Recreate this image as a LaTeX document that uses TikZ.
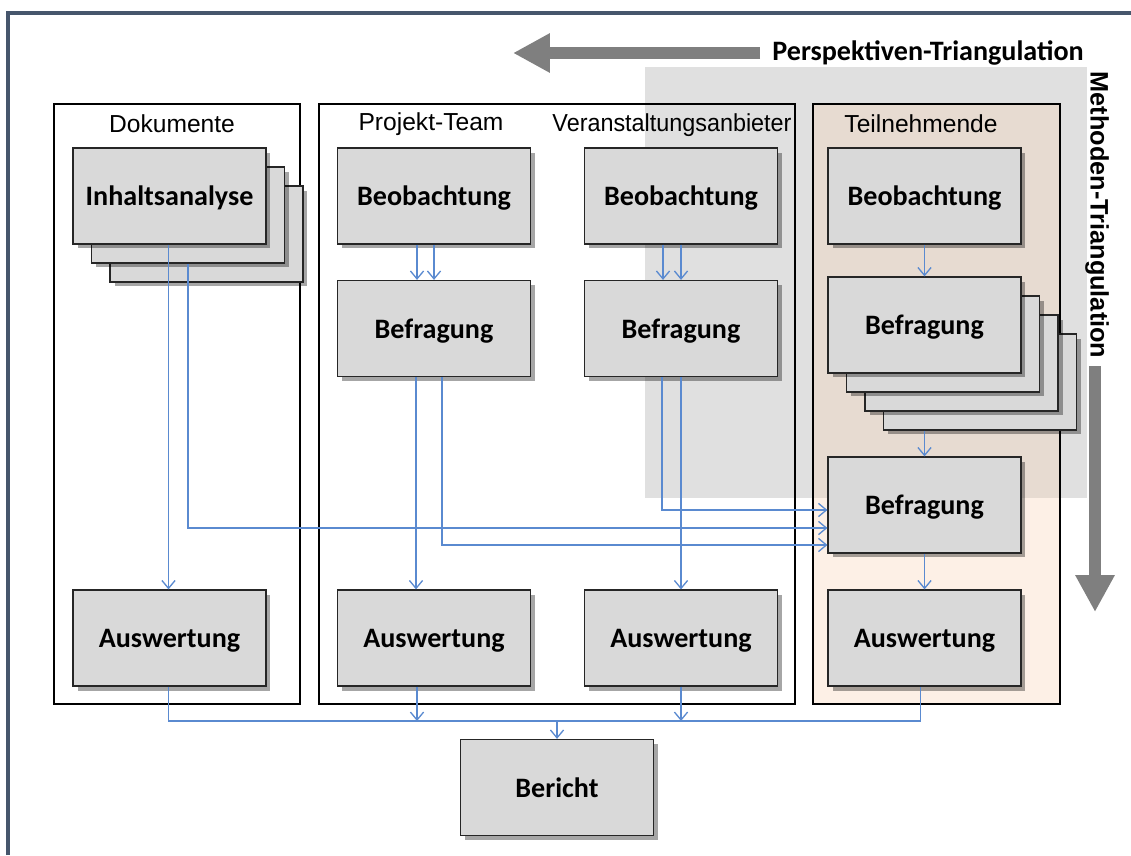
\documentclass[tikz,border=0pt]{standalone}
\usepackage{fontspec}
\usepackage{graphicx}
\setmainfont{Carlito}
\newfontfamily\arialfont{Liberation Sans}
\usetikzlibrary{positioning, arrows.meta, shadows}
\definecolor{boxgray}{HTML}{D9D9D9}
\definecolor{regiongray}{HTML}{E0E0E0}
\definecolor{peachlight}{HTML}{FDF0E6}
\definecolor{peachdark}{HTML}{E7DBD1}
\definecolor{flowblue}{HTML}{5A8AD0}
\definecolor{arrowgray}{HTML}{7F7F7F}
\definecolor{framecol}{HTML}{46566C}
\tikzset{
  proc/.style={draw=black!85, line width=0.7pt, fill=boxgray, minimum width=3.86cm, minimum height=1.92cm,
    font=\bfseries\fontsize{16}{19}\selectfont, text depth=0pt,
    drop shadow={shadow xshift=0.09cm, shadow yshift=-0.09cm, fill=black, opacity=0.35}},
  group/.style={draw=black, line width=0.6pt},
  grouplabel/.style={font=\arialfont\fontsize{14}{16}\selectfont},
  flow/.style={flowblue, line width=0.75pt, -{Straight Barb[length=4.5pt,width=7.5pt]}},
  busline/.style={flowblue, line width=0.75pt},
  bigarrow/.style={arrowgray, line width=6.8pt, -{Triangle[length=21pt,width=21pt]}},
}
\begin{document}
\begin{tikzpicture}[x=0.02cm, y=-0.02cm]
\useasboundingbox (0,0) rectangle (1131,855);
% Rahmen und Hintergrund
\draw[framecol, line width=1.8pt] (8,855) -- (8,13) -- (1131,13);
\fill[regiongray] (645,67) rectangle (1087,498);
\fill[peachlight] (813,498) rectangle (1060,704);
\fill[peachdark] (813,104) rectangle (1060,498);
\draw[group] (54,104) rectangle (300,704);
\draw[group] (319,104) rectangle (795,704);
\draw[group] (813,104) rectangle (1060,704);
\node[grouplabel] (lb_dok) at (172,124) {Dokumente};
\node[grouplabel] (lb_pt) at (431,124) {Projekt-Team};
\node[grouplabel] (lb_va) at (672,125) {\scalebox{0.95}[1]{Veranstaltungsanbieter}};
\node[grouplabel] (lb_tn) at (921,124) {Teilnehmende};

% Triangulation
\draw[bigarrow] (760,53) -- (513,53);
\node[anchor=west, inner sep=0, font=\bfseries\fontsize{16}{19}\selectfont] (pt_txt) at (772,53) {Perspektiven-Triangulation};
\node[rotate=-90, inner sep=0, font=\arialfont\bfseries\fontsize{14.4}{17}\selectfont] (mt_txt) at (1097,215) {Methoden-Triangulation};
\draw[bigarrow] (1095,366) -- (1095,612);

% Dokumente
\node[proc] (ia_3) at (206.5,234) {};
\node[proc] (ia_2) at (188,215) {};
\node[proc] (ia_1) at (169.5,196) {Inhaltsanalyse};
\node[proc] (au_1) at (169.5,638) {Auswertung};
% Projekt-Team
\node[proc] (beo_2) at (434,196) {Beobachtung};
\node[proc] (bf_2) at (434,328.5) {Befragung};
\node[proc] (au_2) at (434,638) {Auswertung};
% Veranstaltungsanbieter
\node[proc] (beo_3) at (681,196) {Beobachtung};
\node[proc] (bf_3) at (681,328.5) {Befragung};
\node[proc] (au_3) at (681,638) {Auswertung};
% Teilnehmende
\node[proc] (beo_4) at (924.5,196) {Beobachtung};
\foreach \k in {3,2,1}
  \node[proc] (bs_\k) at ({924.5+18.5*\k},{325+19*\k}) {};
\node[proc] (bs_0) at (924.5,325) {Befragung};
\node[proc] (bf_4) at (924.5,505) {Befragung};
\node[proc] (au_4) at (924.5,638) {Auswertung};
\node[proc] (be_0) at (557,787.5) {Bericht};

\path[flow]
  ([xshift=-0.34cm]beo_2.south) edge ([xshift=-0.34cm]bf_2.north)
  (beo_2.south) edge (bf_2.north)
  ([xshift=-0.36cm]beo_3.south) edge ([xshift=-0.36cm]bf_3.north)
  (beo_3.south) edge (bf_3.north)
  (beo_4.south) edge (bs_0.north)
  (bf_4.north |- bs_3.south) edge (bf_4.north)
  (bf_4.south) edge (au_4.north)
  ([xshift=-0.02cm]ia_1.south) edge ([xshift=-0.02cm]au_1.north)
  ([xshift=-0.36cm]bf_2.south) edge ([xshift=-0.36cm]au_2.north)
  (bf_3.south) edge (au_3.north);
\draw[flow] (ia_2.south) |- ([yshift=-0.46cm]bf_4.west);
\draw[flow] ([xshift=0.16cm]bf_2.south) |- ([yshift=-0.8cm]bf_4.west);
\draw[flow] ([xshift=-0.38cm]bf_3.south) |- ([yshift=-0.1cm]bf_4.west);

% Bericht
\coordinate (bus_0) at (557,721);
\coordinate (bus_2) at (417,721);
\coordinate (bus_3) at (681,721);
\draw[busline] ([xshift=-0.02cm]au_1.south) |- (bus_0) -| ([xshift=-0.08cm]au_4.south);
\draw[flow] (au_2.south -| bus_2) -- (bus_2);
\draw[flow] (au_3.south -| bus_3) -- (bus_3);
\draw[flow] (bus_0) -- (be_0.north);
\end{tikzpicture}
\end{document}
